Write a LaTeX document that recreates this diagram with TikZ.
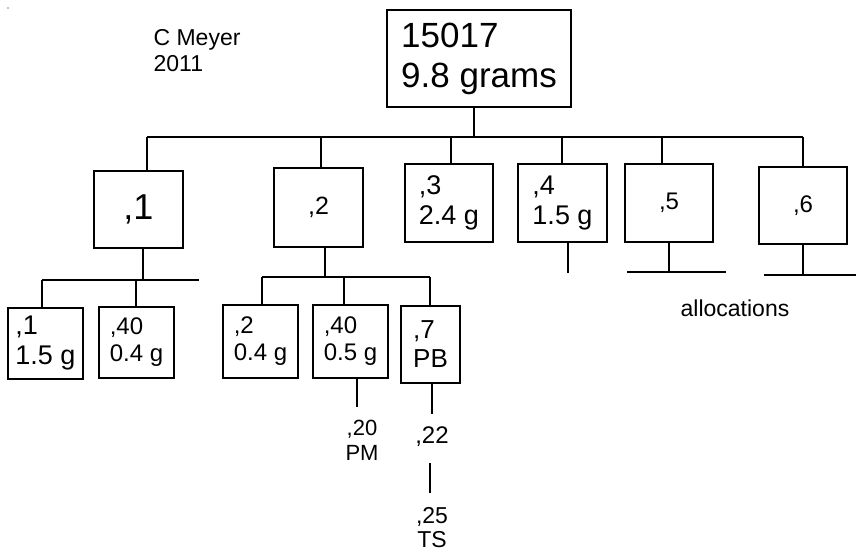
\documentclass[tikz,border=0pt]{standalone}
\usepackage{fontspec}
\setmainfont{Liberation Sans}
\begin{document}
\begin{tikzpicture}[x=1pt,y=-1pt,line width=1.2pt,
  bx/.style 2 args={draw, line width=1.2pt, inner sep=0pt, align=left, minimum width=#1, minimum height=#2},
  txt/.style={inner sep=0pt, align=center},
  fa/.style={font=\fontsize{35}{40}\selectfont},
  fb/.style={font=\fontsize{27}{30}\selectfont},
  fc/.style={font=\fontsize{24}{27}\selectfont},
  fd/.style={font=\fontsize{23}{26}\selectfont},
  fe/.style={font=\fontsize{22}{25}\selectfont}]
\useasboundingbox (0,0) rectangle (856,552);
\fill (8,8) circle (0.6);
% labels
\node[txt, fd, align=left, anchor=north west] (author) at (153,29) {C Meyer\\2011};
\node[txt, fd] (alloc) at (735,308) {allocations};
% boxes
\node[bx={184}{97}, fa] (root) at (479,58.5) {15017\\9.8 grams};
\node[bx={89}{77}, font=\fontsize{36}{40}\selectfont] (n1) at (138.5,209.5) {,1};
\node[bx={89}{79}, font=\fontsize{25}{28}\selectfont] (n2) at (318.5,207.5) {,2};
\node[bx={88}{78}, fb] (n3) at (449,203) {,3\\2.4 g};
\node[bx={89}{78}, fb] (n4) at (562.5,203) {,4\\1.5 g};
\node[bx={88}{78}, fc] (n5) at (669,203) {,5};
\node[bx={88}{77}, fc] (n6) at (803,205.5) {,6};
\node[bx={75}{71}, fb] (n11) at (45.5,343.5) {,1\\1.5 g};
\node[bx={75}{71}, fc] (n140) at (136.5,342.5) {,40\\0.4 g};
\node[bx={75}{73}, fc] (n22) at (260.5,341.5) {,2\\0.4 g};
\node[bx={75}{73}, fc] (n240) at (350.5,341.5) {,40\\0.5 g};
\node[bx={59}{77}, font=\fontsize{26}{29}\selectfont] (n7) at (430.5,344.5) {,7\\PB};
% free labels
\node[txt, fe] (n20) at (362,440) {,20\\PM};
\node[txt, fc] (t22) at (432,437) {,22};
\node[txt, font=\fontsize{23}{24}\selectfont] (t25) at (432,528) {,25\\TS};
% top bus
\coordinate (bus) at (474,137);
\coordinate (d1) at (147,137);
\coordinate (d2) at (321,137);
\coordinate (d3) at (451,137);
\coordinate (d4) at (562,137);
\coordinate (d5) at (662,137);
\coordinate (d6) at (803,137);
\draw (root.south -| bus) -- (bus);
\draw (d1) -- (d6);
\draw (d1) -- (d1 |- n1.north);
\draw (d2) -- (d2 |- n2.north);
\draw (d3) -- (d3 |- n3.north);
\draw (d4) -- (d4 |- n4.north);
\draw (d5) -- (d5 |- n5.north);
\draw (d6) -- (d6 |- n6.north);
% ,1 children
\coordinate (s1) at (143,280);
\coordinate (s1L) at (42,280);
\coordinate (s1R) at (199,280);
\coordinate (s1b) at (136,280);
\draw (n1.south -| s1) -- (s1);
\draw (s1L) -- (s1R);
\draw (s1L) -- (s1L |- n11.north);
\draw (s1b) -- (s1b |- n140.north);
% ,2 children
\coordinate (s2) at (325,277);
\coordinate (s2L) at (262,277);
\coordinate (s2m) at (344,277);
\coordinate (s2R) at (430,277);
\draw (n2.south -| s2) -- (s2);
\draw (s2L) -- (s2R);
\draw (s2L) -- (s2L |- n22.north);
\draw (s2m) -- (s2m |- n240.north);
\draw (s2R) -- (s2R |- n7.north);
% ,4 ,5 ,6 stubs
\coordinate (s4) at (568,273);
\draw (n4.south -| s4) -- (s4);
\coordinate (s5) at (669,272);
\coordinate (s5L) at (627,272);
\coordinate (s5R) at (726,272);
\draw (n5.south -| s5) -- (s5);
\draw (s5L) -- (s5R);
\coordinate (s6) at (803,275);
\coordinate (s6L) at (764,275);
\coordinate (s6R) at (856,275);
\draw (n6.south -| s6) -- (s6);
\draw (s6L) -- (s6R);
% lower chains
\coordinate (s20) at (357,407);
\draw (n240.south -| s20) -- (s20);
\coordinate (s22) at (432,414);
\draw (n7.south -| s22) -- (s22);
\coordinate (s25a) at (430,463);
\coordinate (s25b) at (430,493);
\draw (s25a) -- (s25b);
\end{tikzpicture}
\end{document}
